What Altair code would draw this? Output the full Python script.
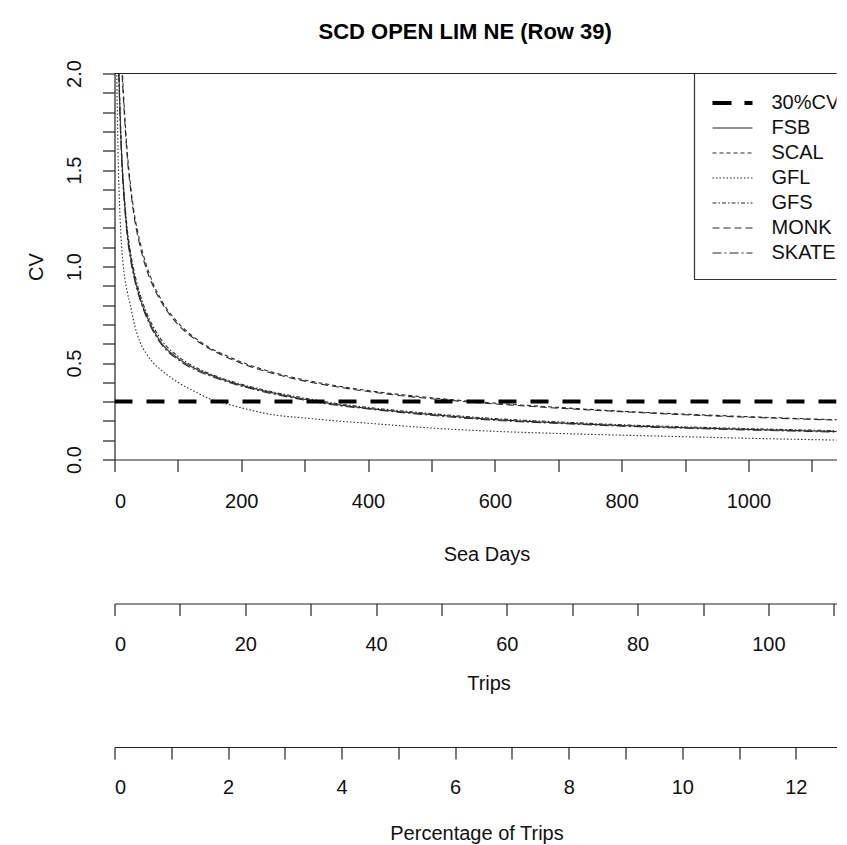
import altair as alt
import pandas as pd

TITLE = "SCD OPEN LIM NE (Row 39)"
X_TITLE = "Sea Days"
TRIPS_TITLE = "Trips"
PCT_TITLE = "Percentage of Trips"
SERIES = ["FSB", "SCAL", "GFL", "GFS", "MONK", "SKATE"]
CV_LABEL = "30%CV"
LEGEND_LABELS = [CV_LABEL] + SERIES

sea_days = [2, 3, 4, 5, 6, 8, 10, 12, 15, 20, 25, 30, 40, 50, 60, 75, 100, 125, 150,
            175, 200, 250, 300, 350, 400, 500, 600, 700, 800, 900, 1000, 1100, 1180]

cv_fsb = [3.6, 2.95, 2.6, 2.35, 2.15, 1.88, 1.68, 1.53, 1.37, 1.18, 1.06, 0.97, 0.84, 0.75,
          0.68, 0.6, 0.525, 0.475, 0.44, 0.41, 0.385, 0.345, 0.312, 0.285, 0.265, 0.233,
          0.207, 0.19, 0.176, 0.165, 0.156, 0.148, 0.142]
cv_scal = [5.0, 4.1, 3.55, 3.2, 2.9, 2.5, 2.25, 2.05, 1.85, 1.6, 1.43, 1.3, 1.13, 1.01, 0.92,
           0.82, 0.71, 0.635, 0.58, 0.54, 0.505, 0.452, 0.412, 0.382, 0.357, 0.32, 0.292,
           0.27, 0.25, 0.235, 0.222, 0.21, 0.203]
cv_gfl = [2.7, 2.2, 1.9, 1.7, 1.53, 1.32, 1.17, 1.07, 0.97, 0.87, 0.8, 0.72, 0.61, 0.55, 0.505,
          0.46, 0.4, 0.355, 0.315, 0.29, 0.268, 0.232, 0.215, 0.2, 0.188, 0.163, 0.146, 0.135,
          0.126, 0.118, 0.11, 0.103, 0.098]
cv_gfs = [3.7, 3.0, 2.65, 2.4, 2.2, 1.9, 1.7, 1.55, 1.39, 1.2, 1.08, 0.99, 0.86, 0.765, 0.695,
          0.615, 0.535, 0.482, 0.445, 0.415, 0.39, 0.35, 0.318, 0.29, 0.27, 0.238, 0.212,
          0.195, 0.18, 0.169, 0.16, 0.152, 0.146]
cv_monk = [4.9, 4.0, 3.45, 3.1, 2.85, 2.45, 2.2, 2.0, 1.82, 1.57, 1.41, 1.28, 1.11, 0.99, 0.905,
           0.81, 0.70, 0.628, 0.574, 0.533, 0.498, 0.446, 0.406, 0.377, 0.352, 0.315, 0.288,
           0.266, 0.248, 0.232, 0.219, 0.208, 0.2]
cv_skate = [3.5, 2.9, 2.55, 2.3, 2.1, 1.84, 1.65, 1.5, 1.35, 1.16, 1.04, 0.955, 0.83, 0.74, 0.67,
            0.592, 0.518, 0.468, 0.434, 0.405, 0.38, 0.34, 0.308, 0.281, 0.262, 0.229, 0.203,
            0.187, 0.173, 0.162, 0.153, 0.145, 0.139]

cv_target = [0.3, 0.3]
cv_target_days = [0, 1180]

day_ticks = list(range(0, 1200, 100))
trip_ticks = list(range(0, 120, 10))
pct_ticks = list(range(0, 13))
cv_ticks = [round(i * 0.1, 1) for i in range(21)]

FONT = "Liberation Sans"
W = 722
H = 386
DAY_MAX = W / 0.6339
TRIP_MAX = W / 6.539
PCT_MAX = W / 56.78

values = {"FSB": cv_fsb, "SCAL": cv_scal, "GFL": cv_gfl, "GFS": cv_gfs,
          "MONK": cv_monk, "SKATE": cv_skate}
rows = []
for s in SERIES:
    for d, v in zip(sea_days, values[s]):
        rows.append({"series": s, "days": d, "cv": v})
curves_df = pd.DataFrame(rows)
target_df = pd.DataFrame({"days": cv_target_days, "cv": cv_target})
legend_df = pd.DataFrame({"series": SERIES, "row": list(range(1, 7))})
legend_cv_df = pd.DataFrame({"series": [CV_LABEL], "row": [0]})
legend_text_df = pd.DataFrame({"label": LEGEND_LABELS, "row": list(range(7))})
box_df = pd.DataFrame({"label": ["legend"]})

dash_scale = alt.Scale(domain=SERIES,
                       range=[[1, 0], [4, 3], [1.5, 2], [4, 2, 1.5, 2], [7, 4], [9, 3, 2, 3]])
row_scale = alt.Scale(domain=[0, 6], range=[29.5, 179.5])

x_days = alt.X("days:Q",
               scale=alt.Scale(domain=[0, DAY_MAX], nice=False, zero=False),
               axis=alt.Axis(values=day_ticks, format="d",
                             labelExpr="datum.value % 200 == 0 ? datum.label : ''",
                             labelOverlap=False, title=X_TITLE, titleX=372,
                             labelPadding=20, titlePadding=33))
y_cv_axis = alt.Y("cv:Q",
                  scale=alt.Scale(domain=[0, 2], nice=False, zero=False),
                  axis=alt.Axis(values=cv_ticks, format=".1f",
                                labelExpr="round(datum.value * 10) % 5 == 0 ? datum.label : ''",
                                labelOverlap=False, labelAngle=270, labelAlign="center",
                                labelBaseline="bottom", labelPadding=18,
                                title="CV", titlePadding=18))
y_cv_plain = alt.Y("cv:Q", scale=alt.Scale(domain=[0, 2], nice=False, zero=False), axis=None)

curves = alt.Chart(curves_df).mark_line(clip=True, color="#2b2b2b", strokeWidth=1.1,
                                        interpolate="monotone").encode(
    x=x_days, y=y_cv_axis,
    strokeDash=alt.StrokeDash("series:N", scale=dash_scale, legend=None),
    detail="series:N")

target = alt.Chart(target_df).mark_line(clip=True, color="black", strokeWidth=4,
                                        strokeDash=[18, 14]).encode(x=x_days, y=y_cv_plain)

top_border = alt.Chart(box_df).mark_rule(color="#222", strokeWidth=1.2).encode(
    x=alt.value(0), x2=alt.value(W), y=alt.value(0))

box = alt.Chart(box_df).mark_rect(clip=True, fill="white", stroke="#333",
                                  strokeWidth=1.2).encode(
    x=alt.value(580), x2=alt.value(W + 30), y=alt.value(0), y2=alt.value(206))

leg_cv = alt.Chart(legend_cv_df).mark_rule(clip=True, color="black", strokeWidth=4,
                                           strokeDash=[19, 13]).encode(
    x=alt.value(598), x2=alt.value(638),
    y=alt.Y("row:Q", scale=row_scale, axis=None))

leg_lines = alt.Chart(legend_df).mark_rule(clip=True, color="#2b2b2b", strokeWidth=1.1).encode(
    x=alt.value(598), x2=alt.value(638),
    y=alt.Y("row:Q", scale=row_scale, axis=None),
    strokeDash=alt.StrokeDash("series:N", scale=dash_scale, legend=None))

leg_text = alt.Chart(legend_text_df).mark_text(clip=True, align="left", baseline="middle",
                                               fontSize=20, font=FONT, color="#111").encode(
    x=alt.value(657),
    y=alt.Y("row:Q", scale=row_scale, axis=None),
    text="label:N")

main = alt.layer(curves, target, box, top_border, leg_cv, leg_lines, leg_text).resolve_scale(
    y="independent").properties(width=W, height=H,
                                view=alt.ViewBackground(stroke="transparent"))

trips = alt.Chart(pd.DataFrame({"trips": trip_ticks})).mark_point(opacity=0).encode(
    x=alt.X("trips:Q", scale=alt.Scale(domain=[0, TRIP_MAX], nice=False, zero=False),
            axis=alt.Axis(values=trip_ticks, format="d",
                          labelExpr="datum.value % 20 == 0 ? datum.label : ''",
                          labelOverlap=False, title=TRIPS_TITLE, titleX=374,
                          labelPadding=19, titlePadding=18.5))
).properties(width=W, height=37, view=alt.ViewBackground(stroke="transparent"))

pct = alt.Chart(pd.DataFrame({"pct": pct_ticks})).mark_point(opacity=0).encode(
    x=alt.X("pct:Q", scale=alt.Scale(domain=[0, PCT_MAX], nice=False, zero=False),
            axis=alt.Axis(values=pct_ticks, format="d",
                          labelExpr="datum.value % 2 == 0 ? datum.label : ''",
                          labelOverlap=False, title=PCT_TITLE, titleX=362,
                          labelPadding=18, titlePadding=26))
).properties(width=W, height=52.5, view=alt.ViewBackground(stroke="transparent"))

chart = alt.vconcat(main, trips, pct, spacing=0).properties(
    title=alt.Title(TITLE, anchor="start", frame="bounds", dx=292.5, offset=15.5,
                    fontSize=22, font=FONT, fontWeight="bold", color="black"),
    padding={"left": 17.5, "top": 12.5, "right": 0, "bottom": 0},
).configure(font=FONT).configure_axis(
    grid=False, domainColor="#222", tickColor="#222", labelColor="#111", titleColor="#111",
    labelFont=FONT, titleFont=FONT, labelFontSize=20, titleFontSize=20,
    titleFontWeight="normal", tickSize=12, domainWidth=1.2, tickWidth=1.2,
)

chart.save("out.html", embed_options={"renderer": "svg", "actions": False})
